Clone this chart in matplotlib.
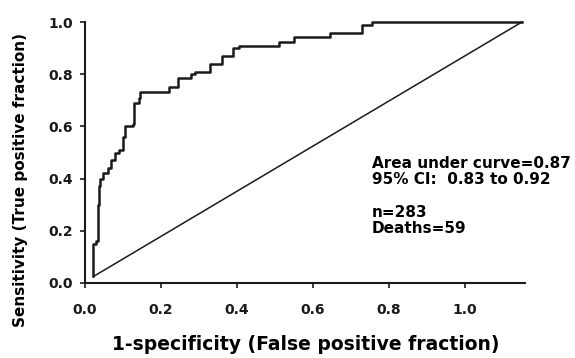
import matplotlib
matplotlib.use('Agg')
import matplotlib.pyplot as plt

plt.rcParams['font.family'] = ['DejaVu Sans']
plt.rcParams['font.weight'] = 'bold'

# ROC curve corners (1-specificity, sensitivity)
fpr = [0.022, 0.022, 0.030, 0.033, 0.036, 0.040, 0.048, 0.060, 0.068, 0.078,
       0.090, 0.100, 0.105, 0.125, 0.130, 0.142, 0.145, 0.220, 0.245, 0.280,
       0.290, 0.330, 0.360, 0.390, 0.405, 0.510, 0.550, 0.645, 0.730, 0.755,
       1.150]
tpr = [0.025, 0.150, 0.160, 0.300, 0.370, 0.400, 0.420, 0.440, 0.470, 0.500,
       0.510, 0.560, 0.600, 0.610, 0.690, 0.710, 0.730, 0.750, 0.785, 0.800,
       0.810, 0.840, 0.870, 0.900, 0.910, 0.925, 0.944, 0.959, 0.988, 1.000,
       1.000]

# reference (chance) line
ref_x = [0.022, 1.150]
ref_y = [0.025, 1.000]

auc_text = 'Area under curve=0.87\n95% CI:  0.83 to 0.92'
n_text = 'n=283\nDeaths=59'

fig = plt.figure(figsize=(5.75, 3.58), dpi=100)
ax = fig.add_axes([0.148, 0.2095, 0.765, 0.729])

ax.step(fpr, tpr, where='post', color='#1a1a1a', lw=1.8, clip_on=False)
ax.plot(ref_x, ref_y, color='#1a1a1a', lw=1.1, clip_on=False)

ax.set_xlim(0, 1.158)
ax.set_ylim(0, 1.0)
ax.set_xticks([0.0, 0.2, 0.4, 0.6, 0.8, 1.0])
ax.set_yticks([0.0, 0.2, 0.4, 0.6, 0.8, 1.0])
ax.set_xticklabels(['%.1f' % v for v in ax.get_xticks()])
ax.set_yticklabels(['%.1f' % v for v in ax.get_yticks()])

for s in ['top', 'right']:
    ax.spines[s].set_visible(False)
for s in ['left', 'bottom']:
    ax.spines[s].set_linewidth(1.5)
    ax.spines[s].set_color('#1a1a1a')
ax.tick_params(direction='out', length=3.5, width=1.2, labelsize=10,
               colors='#1a1a1a')
ax.tick_params(axis='x', pad=11)
ax.tick_params(axis='y', pad=5)
for lab in ax.get_xticklabels() + ax.get_yticklabels():
    lab.set_fontweight('bold')

ax.set_xlabel('1-specificity (False positive fraction)', fontsize=13.5,
              fontweight='bold')
ax.set_ylabel('Sensitivity (True positive fraction)', fontsize=11,
              fontweight='bold')
ax.xaxis.set_label_coords(0.502, -0.199)
ax.yaxis.set_label_coords(-0.130, 0.395)

ax.text(0.755, 0.487, auc_text, fontsize=11, fontweight='bold',
        va='top', ha='left', linespacing=1.13)
ax.text(0.755, 0.30, n_text, fontsize=11, fontweight='bold',
        va='top', ha='left', linespacing=1.13)

fig.savefig('out.png', dpi=100)
